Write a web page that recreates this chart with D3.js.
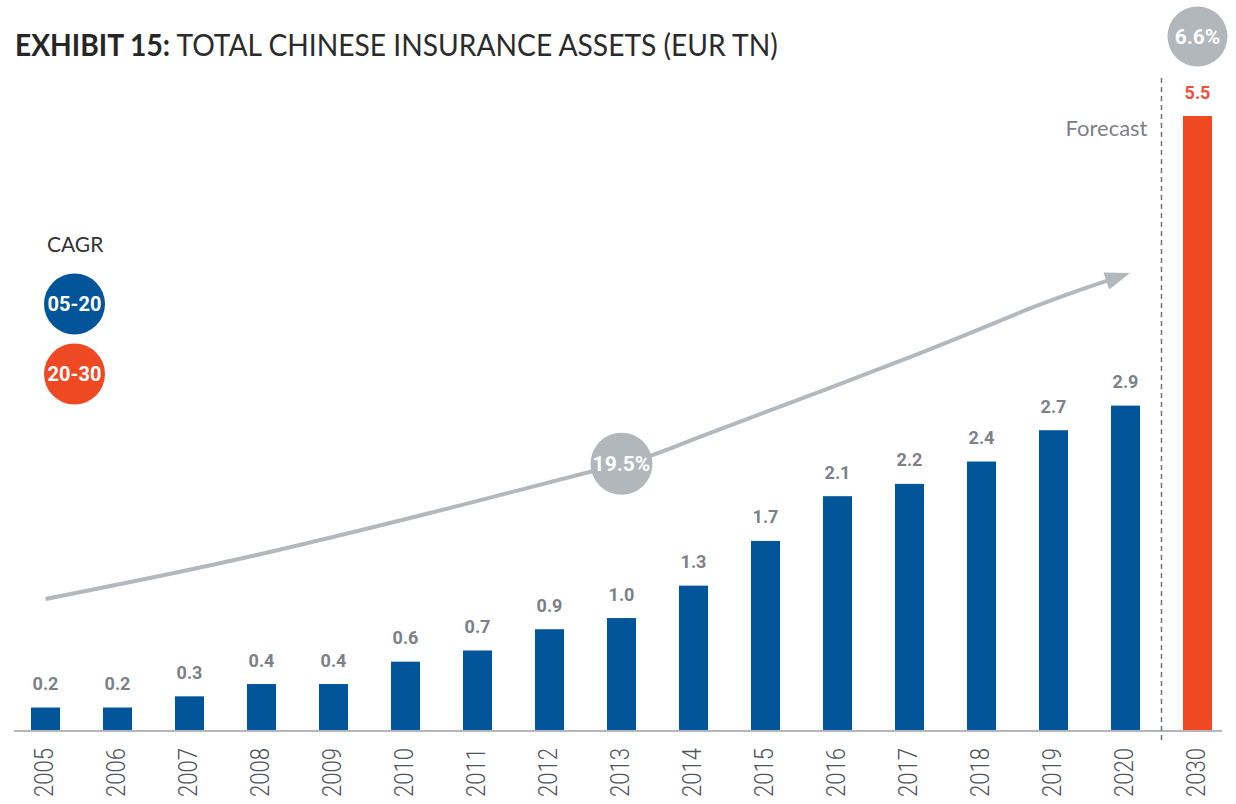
<!DOCTYPE html>
<html>
<head>
<meta charset="utf-8">
<script src="https://cdn.jsdelivr.net/npm/d3@7"></script>
<style>
  html, body { margin: 0; padding: 0; background: #ffffff; }
  svg { display: block; }
</style>
</head>
<body>
<svg id="chart" width="1236" height="804"></svg>
<script>
// ---- data ----
const years = ["2005","2006","2007","2008","2009","2010","2011","2012","2013","2014","2015","2016","2017","2018","2019","2020","2030"];
const values = [0.21, 0.21, 0.31, 0.42, 0.42, 0.62, 0.72, 0.91, 1.01, 1.30, 1.70, 2.10, 2.21, 2.41, 2.69, 2.91, 5.50];
const forecastYears = ["2030"];
const cagrPeriods = ["05-20", "20-30"];
const cagrRates = ["19.5%", "6.6%"];
// trend arrow path, in (year, value) units
const arrowYears  = [2005.0, 2007.56, 2010.34, 2013.0, 2014.09, 2016.87, 2018.72, 2019.76];
const arrowValues = [1.18, 1.52, 1.95, 2.39, 2.63, 3.31, 3.79, 4.03];

const titleBold = "EXHIBIT 15:";
const titleRest = " TOTAL CHINESE INSURANCE ASSETS (EUR TN)";

// ---- styling ----
const BLUE = "#03559a", RED = "#ee4923", RED_TXT = "#ee4f3d";
const GREY_LBL = "#7c8189", GREY_ARROW = "#b3b8bc", GREY_CIRCLE = "#b2b7bb";

const svg = d3.select("#chart");
const baseY = 731;

const x = d3.scaleBand().domain(years).range([9.5, 9.5 + 72 * years.length])
  .paddingInner(0.597).paddingOuter(0.2985);
const y = d3.scaleLinear().domain([0, 5.5]).range([baseY, 116]);
const xCont = d3.scaleLinear().domain([2005, 2020])
  .range([x("2005") + x.bandwidth() / 2, x("2020") + x.bandwidth() / 2]);

const data = years.map((yr, i) => ({ year: yr, value: values[i], forecast: forecastYears.includes(yr) }));

// ---- title ----
const title = svg.append("text").attr("x", 15).attr("y", 56)
  .style("font-family", "Lato, 'Open Sans', sans-serif").style("font-size", "30px").attr("fill", "#262626");
title.append("tspan").text(titleBold).style("font-weight", 700);
title.append("tspan").text(titleRest).style("font-weight", 400).attr("fill", "#2b2b2b");
const tw = title.node().getComputedTextLength();
const sx = 763 / tw;
title.attr("transform", `translate(15,0) scale(${sx},1) translate(-15,0)`);

// ---- bars ----
svg.append("g").selectAll("rect").data(data).join("rect")
  .attr("x", d => x(d.year))
  .attr("y", d => y(d.value))
  .attr("width", x.bandwidth())
  .attr("height", d => baseY - y(d.value))
  .attr("fill", d => d.forecast ? RED : BLUE);

// ---- value labels ----
const fmt = d3.format(".1f");
svg.append("g").selectAll("text").data(data).join("text")
  .attr("transform", d => `translate(${x(d.year) + x.bandwidth() / 2},${y(d.value) - 17.5}) scale(0.95,1)`)
  .attr("text-anchor", "middle")
  .style("font-family", "Roboto, sans-serif").style("font-weight", 700).style("font-size", "19px")
  .attr("fill", d => d.forecast ? RED_TXT : GREY_LBL)
  .text(d => fmt(d.value));

// ---- x axis ----
const axis = svg.append("g").attr("transform", `translate(0,${baseY})`)
  .call(d3.axisBottom(x).tickSize(0).tickSizeOuter(0).tickPadding(0));
axis.select(".domain").attr("d", `M14,0H1222`).attr("stroke", "#b3b7bb").attr("stroke-width", 2);
axis.selectAll(".tick text")
  .attr("transform", "translate(-1.5,17) rotate(-90) scale(0.85,1)")
  .attr("text-anchor", "end").attr("dy", "0.36em").attr("y", 0).attr("x", 0)
  .style("font-family", "Roboto, sans-serif").style("font-weight", 300).style("font-size", "26px")
  .attr("fill", "#4f545a");

// ---- forecast divider ----
const divX = (x("2020") + x.bandwidth() + x("2030")) / 2;
svg.append("line").attr("x1", divX).attr("x2", divX).attr("y1", 78).attr("y2", 744)
  .attr("stroke", "#6e7379").attr("stroke-width", 1.5).attr("stroke-dasharray", "5,4");
svg.append("text").attr("x", divX - 14).attr("y", 136).attr("text-anchor", "end")
  .style("font-family", "Lato, sans-serif").style("font-size", "22px").attr("fill", "#7c8187")
  .text("Forecast");

// ---- trend arrow ----
const defs = svg.append("defs");
defs.append("marker").attr("id", "ah").attr("markerUnits", "userSpaceOnUse")
  .attr("viewBox", "0 -9 25 18").attr("markerWidth", 25).attr("markerHeight", 18)
  .attr("refX", 2).attr("refY", 0).attr("orient", "auto")
  .append("path").attr("d", "M0,-9L25,0L0,9Z").attr("fill", GREY_ARROW);

const arrowPts = arrowYears.map((yr, i) => [xCont(yr), y(arrowValues[i])]);
svg.append("path").datum(arrowPts)
  .attr("d", d3.line().curve(d3.curveNatural))
  .attr("fill", "none").attr("stroke", GREY_ARROW).attr("stroke-width", 4)
  .attr("marker-end", "url(#ah)");

// ---- CAGR bubbles ----
function bubble(cx, cy, r, fill, label, size) {
  svg.append("circle").attr("cx", cx).attr("cy", cy).attr("r", r).attr("fill", fill);
  svg.append("text").attr("x", cx).attr("y", cy).attr("dy", "0.36em").attr("text-anchor", "middle")
    .style("font-family", "Roboto, sans-serif").style("font-weight", 700).style("font-size", size + "px")
    .attr("fill", "#ffffff").text(label);
}
bubble(xCont(2013), y(2.39), 31, GREY_CIRCLE, cagrRates[0], 21);
bubble(x("2030") + x.bandwidth() / 2, 36.5, 30, GREY_CIRCLE, cagrRates[1], 21);

// ---- legend ----
svg.append("text").attr("x", 47).attr("y", 252)
  .style("font-family", "Lato, sans-serif").style("font-size", "21px").attr("fill", "#333333")
  .text("CAGR");
bubble(74.5, 304, 30.5, BLUE, cagrPeriods[0], 20);
bubble(74.5, 374, 30.5, RED, cagrPeriods[1], 20);
</script>
</body>
</html>
